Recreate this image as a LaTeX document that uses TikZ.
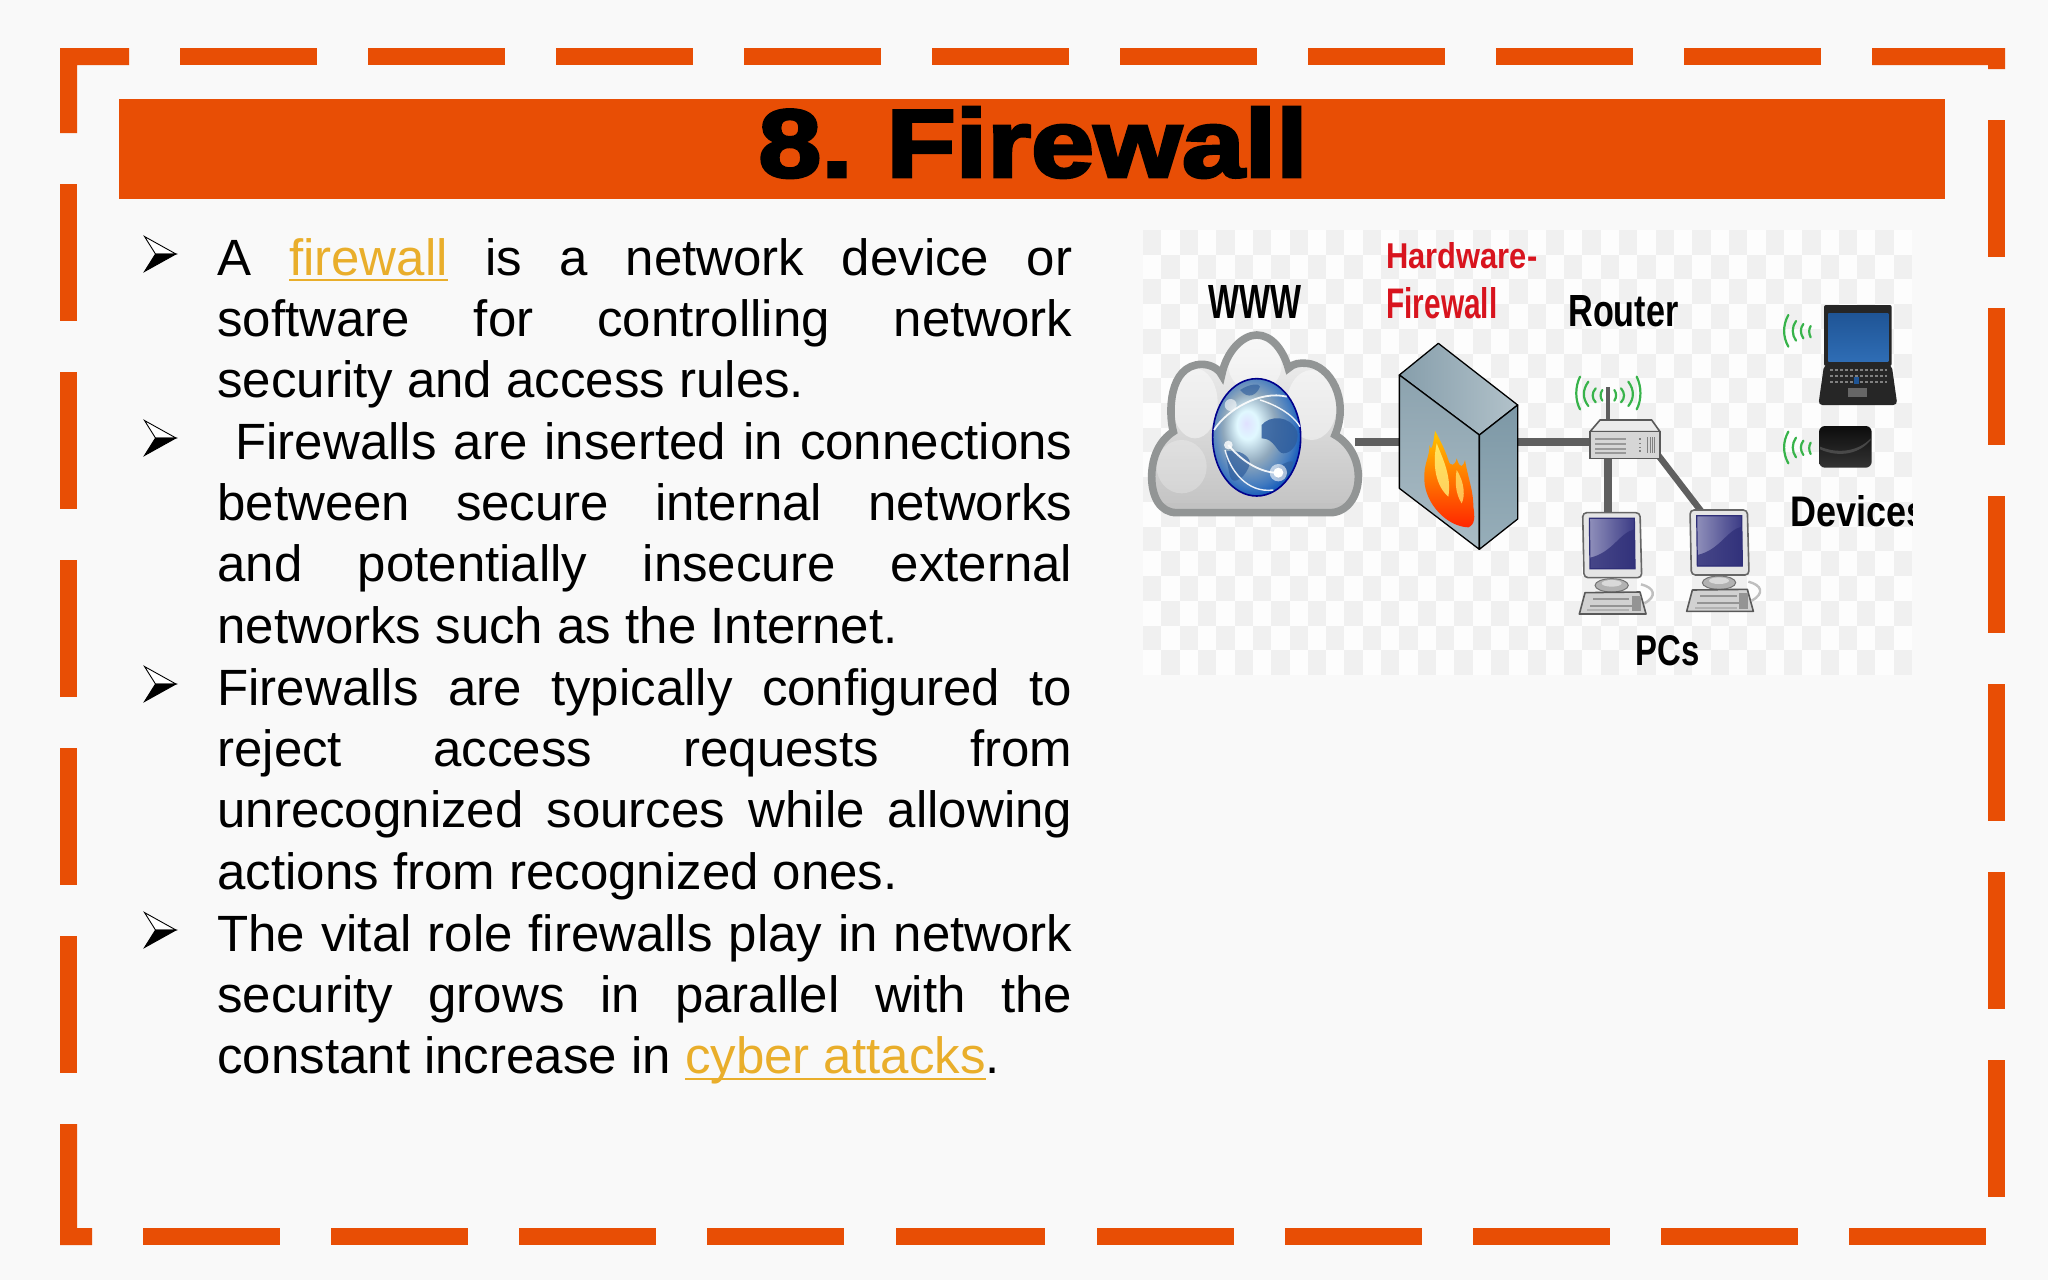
\documentclass[tikz,border=0pt]{standalone}
\usepackage{fontspec}
\usepackage{graphicx}
\setmainfont{Liberation Sans}
\newfontfamily\titlefont{Liberation Sans Bold}[FakeBold=3]
\definecolor{pagebg}{HTML}{F9F9F9}
\definecolor{brand}{HTML}{E84E05}
\definecolor{linkc}{HTML}{E9AE2B}
\definecolor{checkgray}{HTML}{F0F0F0}
\definecolor{checkwhite}{HTML}{FDFDFD}
\definecolor{wirec}{HTML}{5F5F5F}
\definecolor{wavec}{HTML}{37B34A}
\definecolor{redlabel}{HTML}{D8141E}
\definecolor{cloudline}{HTML}{929595}
\definecolor{landc}{HTML}{2F5E9E}
\definecolor{fwtopa}{HTML}{869EAB}
\definecolor{fwtopb}{HTML}{B2C2CA}
\definecolor{fwlefta}{HTML}{8CA3AF}
\definecolor{fwleftb}{HTML}{AABCC5}
\definecolor{fwrighta}{HTML}{7D98A6}
\definecolor{fwrightb}{HTML}{97AEB9}
\definecolor{scrna}{HTML}{8F8FBA}
\definecolor{scrnb}{HTML}{3A3A85}
\definecolor{scrnc}{HTML}{2F2F78}
\definecolor{lapa}{HTML}{1F5596}
\definecolor{lapb}{HTML}{2F6DB5}
\pgfdeclareradialshading{globeshade}{\pgfpoint{-6bp}{6bp}}{color(0bp)=(blue!12!white);color(6bp)=(blue!22!cyan!12!white);color(15bp)=(blue!45!cyan!25!gray!70);color(24bp)=(blue!55!cyan!50!gray);color(30bp)=(blue!60!black!70!cyan);color(50bp)=(blue!60!black)}
\newcommand\lnk[1]{\textcolor{linkc}{\setbox0\hbox{#1}\rlap{\rule[-3.2pt]{\wd0}{1.3pt}}\box0}}
\newcommand\imlabel[7]{\node[anchor=base west,inner sep=0pt,text=#6] (#1) at (#2,#3) {\resizebox{#4}{#5}{\bfseries #7}};}
\newcommand\cloudshape{(110,578) .. controls (60,578) and (35,530) .. (35,470)
  .. controls (35,410) and (60,360) .. (100,335)
  .. controls (85,280) and (85,135) .. (185,133)
  .. controls (210,133) and (235,145) .. (245,165)
  .. controls (260,90) and (310,45) .. (350,45)
  .. controls (395,45) and (430,90) .. (445,145)
  .. controls (460,130) and (480,128) .. (500,130)
  .. controls (570,135) and (630,240) .. (585,345)
  .. controls (630,370) and (655,420) .. (655,470)
  .. controls (655,530) and (620,578) .. (570,578) -- cycle}
\newcommand\bulletmark[2]{%
  \begin{scope}[shift={(#1,#2)}]
  \fill[white,draw=black,line width=.45pt,line join=miter] (0,-17.5) -- (31.5,0) -- (11,0) -- cycle;
  \fill[black,draw=black,line width=.45pt] (0,17.5) -- (31.5,0) -- (11,0) -- cycle;
  \end{scope}}
\newcommand\pcunit[2]{%
  \begin{scope}[shift={(#1,#2)}]
  \draw[black!25,line width=1.2pt] (175,215) .. controls (215,225) and (225,250) .. (185,272);
  \fill[black!30,draw=black!55,line width=.5pt] (87,218) ellipse (50 and 20);
  \fill[black!15] (87,212) ellipse (30 and 10);
  \draw[black!60,fill=black!10,line width=.8pt,rounded corners=2pt] (0,0) -- (172,0) -- (177,195) -- (4,195) -- cycle;
  \shade[left color=scrna,right color=scrnb,draw=scrnc,line width=.6pt] (20,17) -- (155,17) -- (157,168) -- (22,168) -- cycle;
  \fill[scrnc,opacity=.75] (22,135) .. controls (90,120) and (110,60) .. (155,50) -- (157,168) -- (22,168) -- cycle;
  \draw[black!65,fill=black!18,line width=.8pt,line join=round] (7,240) -- (172,238) -- (190,304) -- (-10,304) -- cycle;
  \fill[black!42] (30,256) rectangle (140,262);
  \fill[black!42] (22,276) rectangle (148,282);
  \fill[black!42] (148,250) rectangle (175,296);
  \fill[black!30] (14,290) rectangle (140,296);
  \end{scope}}
\begin{document}
\begin{tikzpicture}[x=0.5pt,y=-0.5pt,
  wire/.style={draw=wirec,line width=3.8pt},
  wave/.style={draw=wavec,line width=1.1pt,line cap=round},
  para/.style={anchor=base west,inner sep=0pt,text width=427.5pt,align=justify,font=\fontsize{25.5}{30.7}\selectfont},
  frameseg/.style={fill=brand}]
\useasboundingbox (0,0) rectangle (2048,1280);
\fill[pagebg] (0,0) rectangle (2048,1280);
% frame
\fill[frameseg] (60,48) -- (129,48) -- (129,65) -- (77,65) -- (77,133) -- (60,133) -- cycle;
\foreach \k in {0,...,8} \fill[frameseg] ({180+188*\k},48) rectangle ++(137,17);
\fill[frameseg] (1872,48) -- (2005,48) -- (2005,69) -- (1988,69) -- (1988,65) -- (1872,65) -- cycle;
\foreach \k in {0,...,5} \fill[frameseg] (1988,{120+188*\k}) rectangle ++(17,137);
\foreach \k in {0,...,4} \fill[frameseg] (60,{184+188*\k}) rectangle ++(17,137);
\fill[frameseg] (60,1124) -- (77,1124) -- (77,1228) -- (92,1228) -- (92,1245) -- (60,1245) -- cycle;
\foreach \k in {0,...,3} \fill[frameseg] ({143+188*\k},1228) rectangle ++(137,17);
\fill[frameseg] (896,1228) rectangle (1045,1245);
\foreach \k in {0,...,4} \fill[frameseg] ({1097+188*\k},1228) rectangle ++(137,17);
% title
\fill[brand] (119,99) rectangle (1945,199);
\node[anchor=base,inner sep=0pt] (title) at (1033,177) {\resizebox{274.5pt}{35pt}{\titlefont 8.\hspace{.3em}Firewall}};
% bullets
\bulletmark{144.5}{254}
\bulletmark{144.5}{438}
\bulletmark{144.5}{684}
\bulletmark{144.5}{930}
\node[para] (p1) at (217,275) {A \lnk{firewall} is a network device or\linebreak software for controlling network\linebreak security and access rules.};
\node[para] (p2) at (217,459) {\hspace*{9pt}Firewalls are inserted in connections\linebreak between secure internal networks\linebreak and potentially insecure external\linebreak networks such as the Internet.};
\node[para] (p3) at (217,705) {Firewalls are typically configured to\linebreak reject access requests from\linebreak unrecognized sources while allowing\linebreak actions from recognized ones.};
\node[para] (p4) at (217,951) {The vital role firewalls play in network\linebreak security grows in parallel with the\linebreak constant increase in \lnk{cyber attacks}.};
% image checker
\fill[checkwhite] (1143,230) rectangle (1912,675);
\foreach \i in {0,...,41} \foreach \j in {0,...,17} {
  \pgfmathparse{int(mod(\i+\j,2))}
  \ifnum\pgfmathresult=0 \fill[checkgray] ({1143+18.31*\i},{230+24.72*\j}) rectangle ++(18.31,24.72); \fi
}
% anchor points
\coordinate (cloudE) at (1355,442);
\coordinate (fwW) at (1400,442);
\coordinate (fwE) at (1518,442);
\coordinate (rtW) at (1592,442);
\coordinate (rtS) at (1608,458);
\coordinate (rtSE) at (1658,455);
\coordinate (pcA) at (1608,514);
\coordinate (pcB) at (1701,511);
\draw[wire] (cloudE) -- (fwW);
\draw[wire] (fwE) -- (rtW);
\draw[wire] (rtS) -- (pcA);
\draw[wire,line width=3.2pt] (rtSE) -- (pcB);
% cloud and globe
\begin{scope}[shift={(1140,320)},scale=1/3]
\shade[top color=black!5,bottom color=black!24] \cloudshape;
\begin{scope}
\clip \cloudshape;
\fill[white,opacity=.45] (165,250) ellipse (68 and 105);
\fill[white,opacity=.45] (345,135) ellipse (80 and 80);
\fill[white,opacity=.45] (515,255) ellipse (75 and 105);
\fill[white,opacity=.25] (125,440) ellipse (75 and 80);
\fill[black!24] (60,550) rectangle (640,590);
\end{scope}
\draw[draw=cloudline,line width=3.8pt] \cloudshape;
% globe
\shade[shading=globeshade,draw=blue!55!black,line width=.8pt] (350,352) ellipse (132 and 176);
\fill[landc,opacity=.85] (365,315) .. controls (390,285) and (450,285) .. (472,335) .. controls (478,370) and (455,400) .. (430,400) .. controls (410,400) and (405,355) .. (365,355) -- cycle;
\fill[landc,opacity=.7] (255,395) .. controls (300,385) and (330,410) .. (330,430) .. controls (320,470) and (280,500) .. (270,470) -- cycle;
\fill[landc,opacity=.65] (300,210) .. controls (330,190) and (360,190) .. (360,200) .. controls (350,225) and (325,240) .. (300,210) -- cycle;
\fill[landc,opacity=.7] (400,450) .. controls (430,430) and (450,420) .. (460,425) .. controls (445,490) and (410,500) .. (400,450) -- cycle;
\draw[white,line width=.9pt,opacity=.9] (222,330) .. controls (260,270) and (360,210) .. (440,230);
\draw[white,line width=.9pt,opacity=.9] (265,375) .. controls (310,430) and (370,460) .. (415,458);
\draw[white,line width=.7pt,opacity=.9] (360,240) .. controls (410,255) and (460,285) .. (480,320);
\draw[white,line width=.7pt,opacity=.9] (255,390) .. controls (270,450) and (320,520) .. (400,510);
\fill[white,opacity=.6] (415,458) circle (26);
\fill[white] (415,458) circle (15);
\fill[white,opacity=.8] (265,375) circle (13);
\fill[white,opacity=.6] (272,255) circle (18);
% firewall
\shade[left color=fwtopa,right color=fwtopb,draw=black,line width=.65pt,line join=round] (895,70) -- (1133,255) -- (1018,345) -- (778,165) -- cycle;
\shade[top color=fwlefta,bottom color=fwleftb,draw=black,line width=.65pt,line join=round] (778,165) -- (1018,345) -- (1018,688) -- (778,505) -- cycle;
\shade[top color=fwrighta,bottom color=fwrightb,draw=black,line width=.65pt,line join=round] (1018,345) -- (1133,255) -- (1133,597) -- (1018,688) -- cycle;
\shade[top color=yellow!55!orange,middle color=orange!85!yellow,bottom color=red!70!orange]
  (885,332) .. controls (880,370) and (875,400) .. (868,375) .. controls (870,410) and (850,430) .. (853,480)
  .. controls (855,550) and (920,620) .. (985,622) .. controls (1005,615) and (1005,590) .. (1000,560)
  .. controls (1000,510) and (985,480) .. (975,420) .. controls (970,440) and (960,450) .. (950,415)
  .. controls (945,440) and (930,440) .. (925,420) .. controls (915,390) and (905,370) .. (885,332) -- cycle;
\fill[yellow!50!white,opacity=.75] (890,370) .. controls (910,420) and (935,470) .. (925,530) .. controls (890,500) and (875,440) .. (890,370) -- cycle;
\fill[yellow!50!white,opacity=.65] (950,450) .. controls (975,490) and (975,530) .. (965,550) .. controls (945,520) and (945,480) .. (950,450) -- cycle;
\end{scope}
% router, PCs
\begin{scope}[shift={(1540,370)},scale=1/3]
\draw[wire,line width=2pt] (205,150) -- (205,50);
\foreach \s in {-1,1} {
  \draw[wave] ({205+\s*85},20) .. controls ({205+\s*100},50) and ({205+\s*100},90) .. ({205+\s*85},118);
  \draw[wave] ({205+\s*60},35) .. controls ({205+\s*78},60) and ({205+\s*78},85) .. ({205+\s*60},108);
  \draw[wave] ({205+\s*38},55) .. controls ({205+\s*50},68) and ({205+\s*50},85) .. ({205+\s*38},97);
  \draw[wave] ({205+\s*18},60) .. controls ({205+\s*25},70) and ({205+\s*25},82) .. ({205+\s*18},92);
}
\draw[draw=black!65,fill=black!8,line width=.8pt,line join=round] (150,185) -- (180,150) -- (335,150) -- (360,185) -- cycle;
\draw[draw=black!65,fill=black!16,line width=.8pt] (150,185) rectangle (360,265);
\foreach \yy in {203,218,233,246} \fill[black!40] (165,\yy) rectangle (258,{\yy+6});
\foreach \xx in {322,329,336,343} \fill[black!50] (\xx,200) rectangle ++(3,48);
\foreach \yy in {205,218,230,240} \fill[black!50] (296,\yy) rectangle ++(6,5);
\pcunit{128}{428}
\pcunit{450}{420}
\end{scope}
% laptop, tablet
\begin{scope}[shift={(1770,290)},scale=1/3]
\foreach \dy in {0,350} {
  \draw[wave] (55,{75+\dy}) .. controls (38,{105+\dy}) and (38,{140+\dy}) .. (55,{170+\dy});
  \draw[wave] (78,{93+\dy}) .. controls (65,{110+\dy}) and (65,{135+\dy}) .. (78,{152+\dy});
  \draw[wave] (100,{102+\dy}) .. controls (90,{115+\dy}) and (90,{130+\dy}) .. (100,{145+\dy});
  \draw[wave] (122,{108+\dy}) .. controls (116,{118+\dy}) and (116,{130+\dy}) .. (122,{142+\dy});
}
\fill[black!85,rounded corners=1pt] (162,45) rectangle (365,228);
\shade[top color=lapa,bottom color=lapb] (175,70) rectangle (355,215);
\fill[black!85,rounded corners=2pt] (162,225) -- (365,225) -- (382,345) -- (145,345) -- cycle;
\foreach \yy in {240,258,276} \draw[black!50,line width=1.4pt,dash pattern=on 1.5pt off 1pt] (180,\yy) -- (350,\yy);
\fill[lapa] (252,262) rectangle (268,282);
\fill[black!60] (235,295) rectangle (290,320);
\shade[top color=black!95,bottom color=black!80,rounded corners=3pt] (147,408) rectangle (305,533);
\fill[black!65,opacity=.7] (150,470) .. controls (210,495) and (270,480) .. (302,445) -- (302,450) .. controls (270,490) and (210,505) .. (150,478) -- cycle;
\end{scope}
% image labels
\begin{scope}
\clip (1143,230) rectangle (1912,675);
\imlabel{lwww}{1208}{318}{46.5pt}{16.5pt}{black}{WWW}
\imlabel{lhw}{1386}{268}{75.5pt}{13pt}{redlabel}{Hardware-}
\imlabel{lfw}{1386}{318}{55.5pt}{15.5pt}{redlabel}{Firewall}
\imlabel{lrouter}{1568}{326}{55pt}{15.5pt}{black}{Router}
\imlabel{ldev}{1790}{526}{68pt}{15.5pt}{black}{Devices}
\imlabel{lpcs}{1635}{665}{32pt}{15pt}{black}{PCs}
\end{scope}
\end{tikzpicture}
\end{document}
